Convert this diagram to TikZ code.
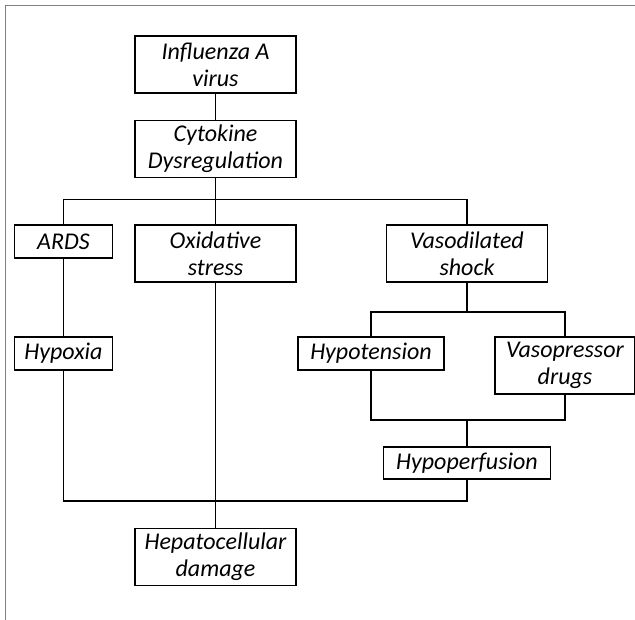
\documentclass[tikz,border=0pt]{standalone}
\usepackage{fontspec}
\setmainfont{Carlito}
\usetikzlibrary{positioning}

\begin{document}
\begin{tikzpicture}[x=1pt,y=-1pt]
    \tikzset{box/.style = {shape=rectangle, draw, line width=1.5pt, inner sep=0pt, align=center,
        minimum width=161pt, minimum height=57pt,
        font=\fontsize{24}{27}\selectfont\itshape}}
    \tikzset{link/.style = {draw, line width=1.5pt, -}}

    \useasboundingbox (0,0) rectangle (635,620);
    \draw[gray, line width=0.8pt] (5.5,620) -- (5.5,5.5) -- (635,5.5);

    % boxes
    \node[box] (flu) at (215.5,64.5) {Influenza A\\virus};
    \node[box] (cyto) at (215.5,149) {Cytokine\\Dysregulation};
    \node[box, minimum width=98pt, minimum height=33pt] (ards) at (63.5,241.5) {ARDS};
    \node[box] (oxi) at (215.5,253.5) {Oxidative\\stress};
    \node[box] (vaso) at (467,253.5) {Vasodilated\\shock};
    \node[box, minimum width=98pt, minimum height=33pt] (hypox) at (63.5,353.5) {Hypoxia};
    \node[box, minimum width=146pt, minimum height=33pt] (hypot) at (371,353.5) {Hypotension};
    \node[box, minimum width=140pt] (vpd) at (565,365.5) {Vasopressor\\drugs};
    \node[box, minimum width=167pt, minimum height=32pt] (hypop) at (467,463) {Hypoperfusion};
    \node[box] (hep) at (215.5,557) {Hepatocellular\\damage};

    % joints
    \coordinate (split) at (215.5,199.5);
    \coordinate (vsplit) at (467,312);
    \coordinate (vjoin) at (467,420);
    \coordinate (hjoin) at (467,501);

    % edges
    \draw[link] (flu) -- (cyto);
    \draw[link] (cyto) -- (oxi);
    \draw[link] (ards) |- (split) -| (vaso);
    \draw[link] (ards) -- (hypox);
    \draw[link] (oxi) -- (hep);
    \draw[link] (vaso) -- (vsplit);
    \draw[link] (hypot) |- (vsplit) -| (vpd);
    \draw[link] (hypot) |- (vjoin) -| (vpd);
    \draw[link] (vjoin) -- (hypop);
    \draw[link] (hypox) |- (hjoin) -- (hypop);
\end{tikzpicture}
\end{document}
